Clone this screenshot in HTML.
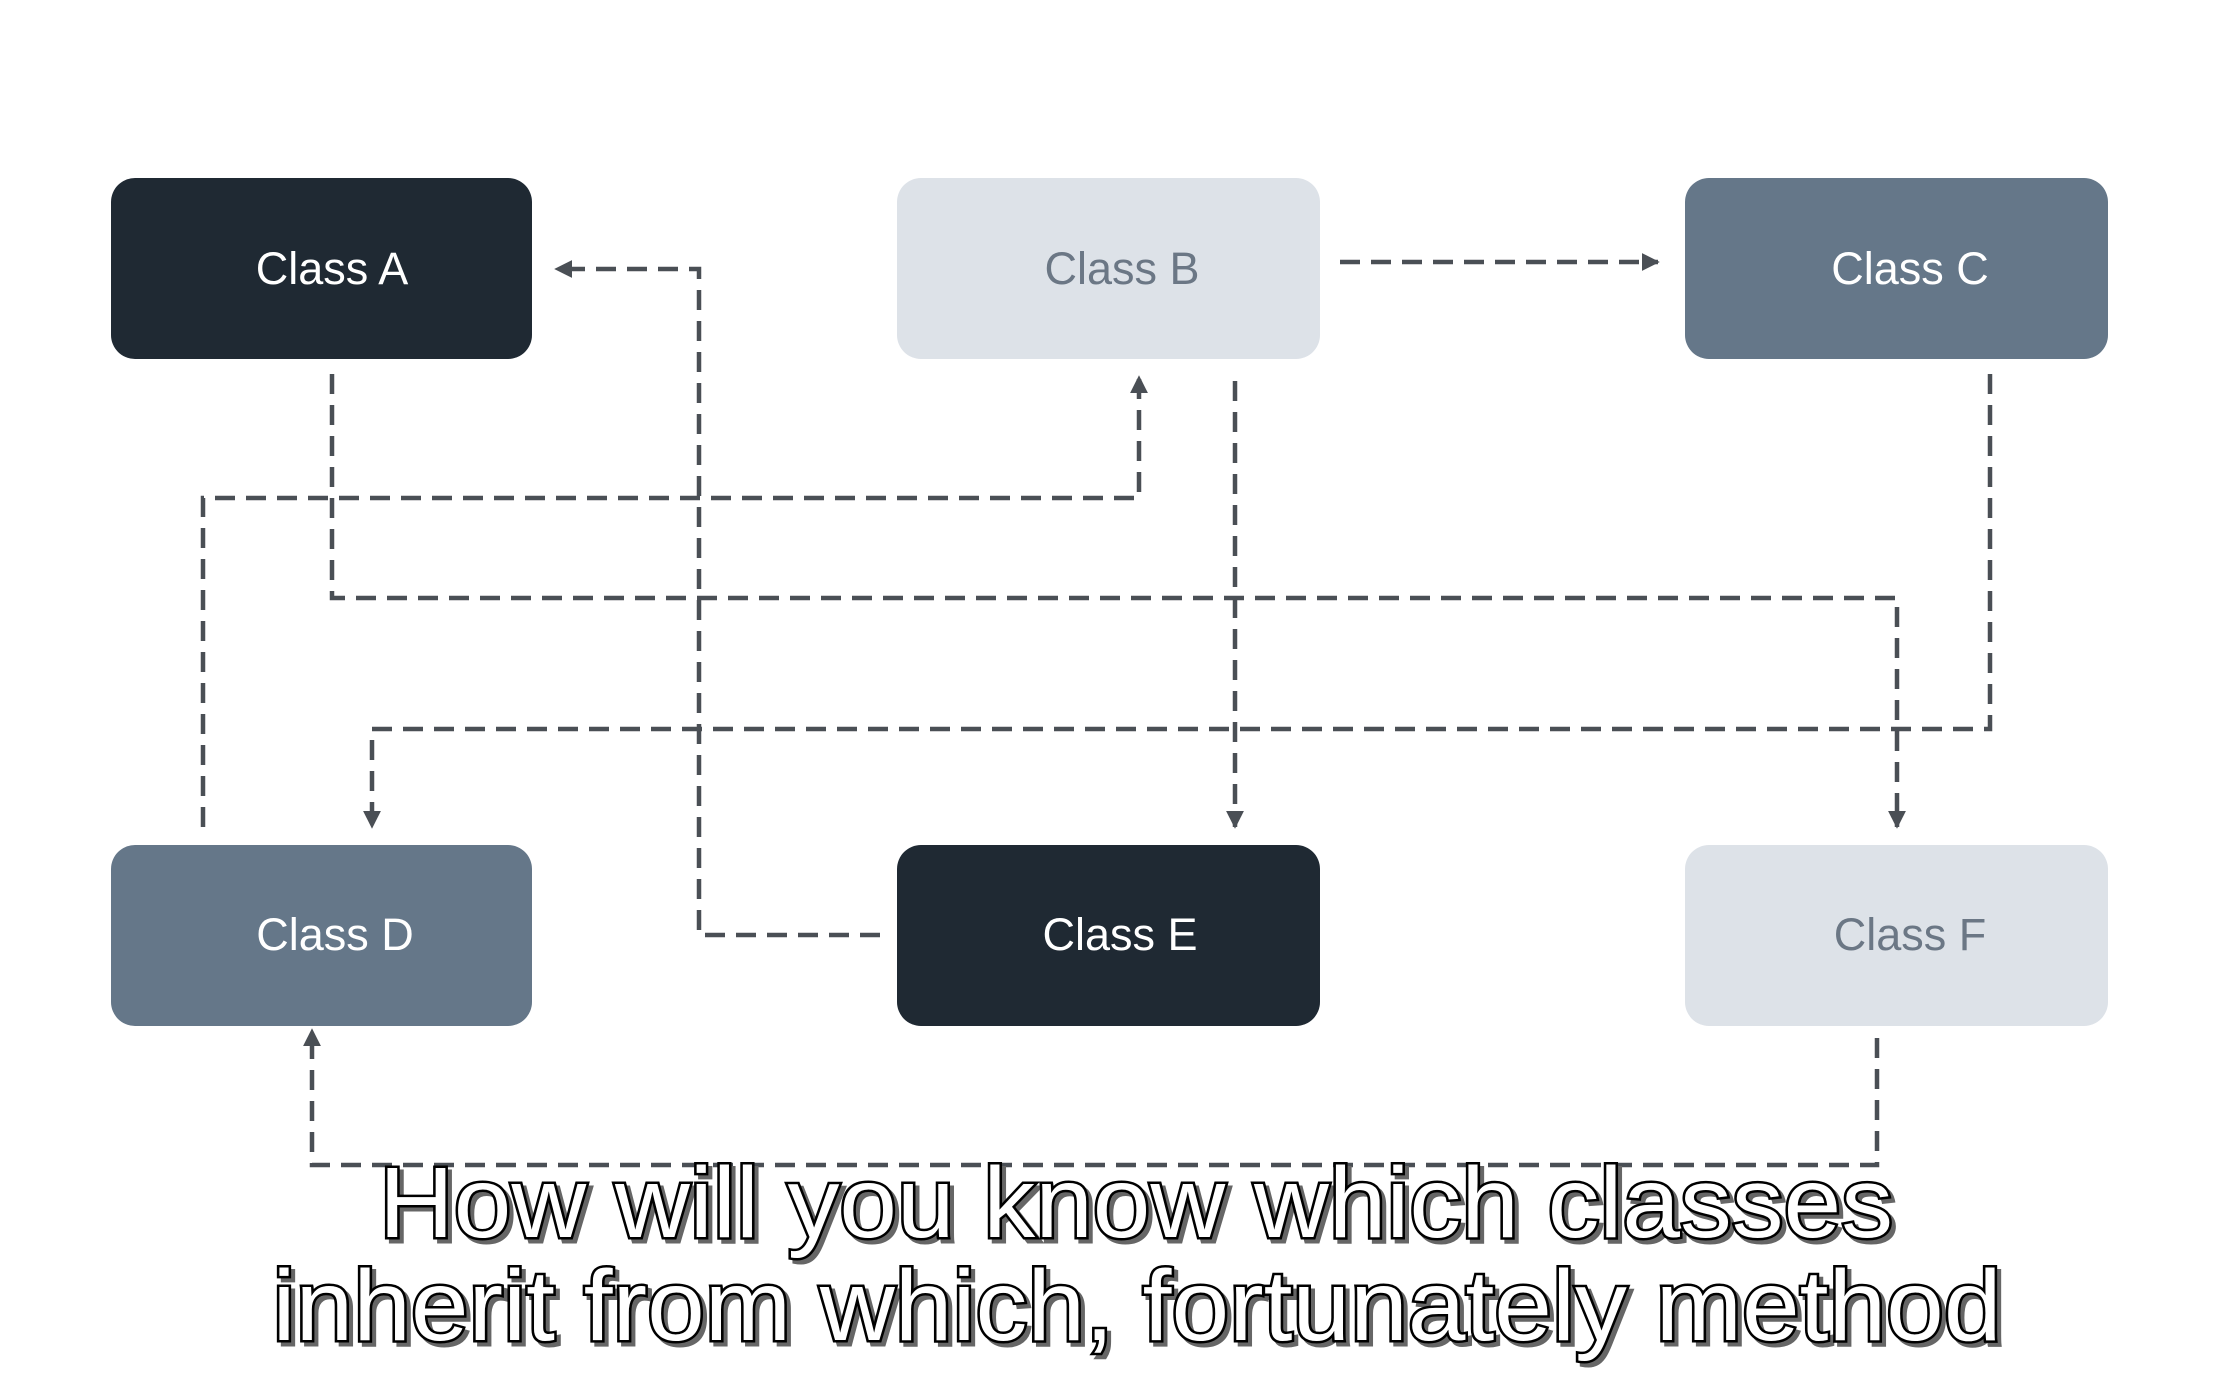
<!DOCTYPE html>
<html><head><meta charset="utf-8"><style>
html,body{margin:0;padding:0;background:#fff;}
svg{display:block}
</style></head><body>
<svg width="2232" height="1380" viewBox="0 0 2232 1380" xmlns="http://www.w3.org/2000/svg">
<defs>
<marker id="ah" viewBox="0 0 10 10" refX="9" refY="5" markerWidth="4" markerHeight="4" orient="auto-start-reverse" markerUnits="strokeWidth">
<path d="M0,0 L10,5 L0,10 z" fill="#4a4f55"/></marker>
</defs>
<rect width="2232" height="1380" fill="#fff"/>
<g font-family="Liberation Sans, sans-serif" font-size="45" text-anchor="middle">
<rect x="111" y="178" width="421" height="181" rx="24" fill="#1f2933"/>
<text x="332" y="284" fill="#fff">Class A</text>
<rect x="897" y="178" width="423" height="181" rx="24" fill="#dde2e8"/>
<text x="1122" y="284" fill="#6b7785">Class B</text>
<rect x="1685" y="178" width="423" height="181" rx="24" fill="#657789"/>
<text x="1910" y="284" fill="#fff">Class C</text>
<rect x="111" y="845" width="421" height="181" rx="24" fill="#657789"/>
<text x="335" y="950" fill="#fff">Class D</text>
<rect x="897" y="845" width="423" height="181" rx="24" fill="#1f2933"/>
<text x="1120" y="950" fill="#fff">Class E</text>
<rect x="1685" y="845" width="423" height="181" rx="24" fill="#dde2e8"/>
<text x="1910" y="950" fill="#6b7785">Class F</text>
</g>
<g fill="none" stroke="#4a4f55" stroke-width="4.5" stroke-dasharray="20 11">
<polyline points="880,935 699,935 699,269 556,269" marker-end="url(#ah)"/>
<polyline points="1340,262 1658,262" marker-end="url(#ah)"/>
<polyline points="332,374 332,598 1897,598 1897,827" marker-end="url(#ah)"/>
<polyline points="203,827 203,498 1139,498 1139,377" marker-end="url(#ah)"/>
<polyline points="1990,374 1990,729 372,729 372,827" marker-end="url(#ah)"/>
<polyline points="1235,381 1235,827" marker-end="url(#ah)"/>
<polyline points="1877,1038 1877,1165 312,1165 312,1030" marker-end="url(#ah)"/>
</g>
<g font-family="Liberation Sans, sans-serif" font-size="100" text-anchor="middle">
<g fill="#666" stroke="#666" stroke-width="5" transform="translate(4,4)">
<text x="1136" y="1237" textLength="1514" lengthAdjust="spacingAndGlyphs">How will you know which classes</text>
<text x="1137" y="1340" textLength="1729" lengthAdjust="spacingAndGlyphs">inherit from which, fortunately method</text>
</g>
<g fill="#fff" stroke="#000" stroke-width="5" paint-order="stroke">
<text x="1136" y="1237" textLength="1514" lengthAdjust="spacingAndGlyphs">How will you know which classes</text>
<text x="1137" y="1340" textLength="1729" lengthAdjust="spacingAndGlyphs">inherit from which, fortunately method</text>
</g>
</g>
</svg>
</body></html>
